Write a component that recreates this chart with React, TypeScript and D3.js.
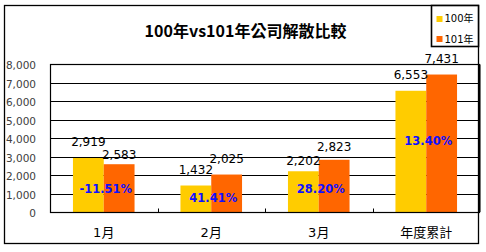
import React from "react";
import * as d3 from "d3";

const categories = ["1月", "2月", "3月", "年度累計"];
const seriesNames = ["100年", "101年"];
const values100 = [2919, 1432, 2202, 6553];
const values101 = [2583, 2025, 2823, 7431];
const pctLabels = ["-11.51%", "41.41%", "28.20%", "13.40%"];
const pctAnchor = [1010, 540, 1010, 3620];
const yTicks = [0, 1000, 2000, 3000, 4000, 5000, 6000, 7000, 8000];
const title = "100年vs101年公司解散比較";

const colors = ["#FFCC00", "#FF6600"];
const W = 486;
const H = 252;
const plot = { left: 50.5, right: 479.5, top: 64.5, bottom: 212 };

// label gap overrides (px above bar top) where the original labels were nudged
const labelGap: Record<string, number> = { "0-1": 5.5, "2-0": 6.7, "2-1": 9 };

export default function App() {
  const x = d3
    .scaleBand<string>()
    .domain(categories)
    .range([50, 480])
    .padding(0);
  const step = x.bandwidth();
  const groupW = step * 0.573;
  const xs = d3
    .scaleBand<string>()
    .domain(seriesNames)
    .range([0, groupW])
    .padding(0);
  const y = d3.scaleLinear().domain([0, 8000]).range([212, 64]);
  const fmt = d3.format(",");
  const seriesVals = [values100, values101];
  const latin = "'DejaVu Sans', 'Noto Sans CJK TC', sans-serif";
  const cjk = "'Noto Sans CJK TC', 'DejaVu Sans', sans-serif";

  return (
    <div style={{ position: "fixed", left: 0, top: 0, width: W, height: H, background: "#fff" }}>
      <svg width={W} height={H} style={{ display: "block" }}>
        <rect x={0} y={0} width={W} height={H} fill="#fff" />
        {/* outer border */}
        <rect x={4.5} y={5.5} width={474} height={238} fill="none" stroke="#000" strokeWidth={1.3} />
        {/* title */}
        <text
          x={245.5}
          y={37}
          textAnchor="middle"
          fontFamily={cjk}
          fontWeight="bold"
          fontSize={16}
          fill="#000"
        >
          {title}
        </text>
        {/* gridlines */}
        {yTicks.map((t) => (
          <line
            key={"g" + t}
            x1={plot.left}
            x2={plot.right}
            y1={Math.round(y(t)) + 0.5}
            y2={Math.round(y(t)) + 0.5}
            stroke="#000"
            strokeWidth={1}
          />
        ))}
        {/* y labels */}
        {yTicks.map((t) => (
          <text
            key={"yl" + t}
            x={36}
            y={y(t) + 5}
            textAnchor="end"
            fontFamily={latin}
            fontSize={10.5}
            fill="#404040"
          >
            {fmt(t)}
          </text>
        ))}
        {/* bars */}
        {categories.map((c, ci) =>
          seriesNames.map((s, si) => {
            const v = seriesVals[si][ci];
            const bx = (x(c) as number) + (step - groupW) / 2 + (xs(s) as number);
            return (
              <rect
                key={c + s}
                x={bx}
                y={y(v)}
                width={xs.bandwidth()}
                height={y(0) - y(v)}
                fill={colors[si]}
              />
            );
          })
        )}
        {/* plot area border */}
        <rect
          x={plot.left}
          y={plot.top}
          width={plot.right - plot.left}
          height={plot.bottom - plot.top + 0.5}
          fill="none"
          stroke="#000"
          strokeWidth={1.2}
        />
        <line x1={plot.right} x2={plot.right} y1={plot.top} y2={plot.bottom} stroke="#000" strokeWidth={2} />
        {/* category ticks */}
        {categories.slice(1).map((c) => (
          <line
            key={"t" + c}
            x1={Math.round(x(c) as number) + 0.5}
            x2={Math.round(x(c) as number) + 0.5}
            y1={208.5}
            y2={212}
            stroke="#000"
            strokeWidth={1}
          />
        ))}
        {/* category labels */}
        {categories.map((c) => (
          <text
            key={"cl" + c}
            x={(x(c) as number) + step / 2}
            y={236.5}
            textAnchor="middle"
            fontFamily={latin}
            fontSize={13}
            fill="#000"
          >
            {c}
          </text>
        ))}
        {/* value labels */}
        {categories.map((c, ci) =>
          seriesNames.map((s, si) => {
            const v = seriesVals[si][ci];
            const cx = (x(c) as number) + (step - groupW) / 2 + (xs(s) as number) + xs.bandwidth() / 2;
            const gap = labelGap[ci + "-" + si] ?? 11.5;
            return (
              <text
                key={"vl" + c + s}
                x={cx}
                y={y(v) - gap}
                textAnchor="middle"
                fontFamily={latin}
                fontSize={12}
                fill="#000"
              >
                {fmt(v)}
              </text>
            );
          })
        )}
        {/* percent labels */}
        {categories.map((c, ci) => (
          <text
            key={"pl" + c}
            x={(x(c) as number) + step / 2 + 2}
            y={y(pctAnchor[ci])}
            textAnchor="middle"
            fontFamily={latin}
            fontWeight="bold"
            fontSize={11.5}
            fill="#1010FF"
          >
            {pctLabels[ci]}
          </text>
        ))}
        {/* legend */}
        <rect x={431.5} y={5.5} width={47} height={41} fill="#fff" stroke="#000" strokeWidth={1.6} />
        {seriesNames.map((s, si) => (
          <g key={"lg" + s}>
            <rect x={436.5} y={16 + si * 20} width={6} height={6} fill={colors[si]} />
            <text x={444.5} y={22 + si * 20.5} fontFamily={latin} fontSize={10} fill="#000">
              {s}
            </text>
          </g>
        ))}
      </svg>
    </div>
  );
}
